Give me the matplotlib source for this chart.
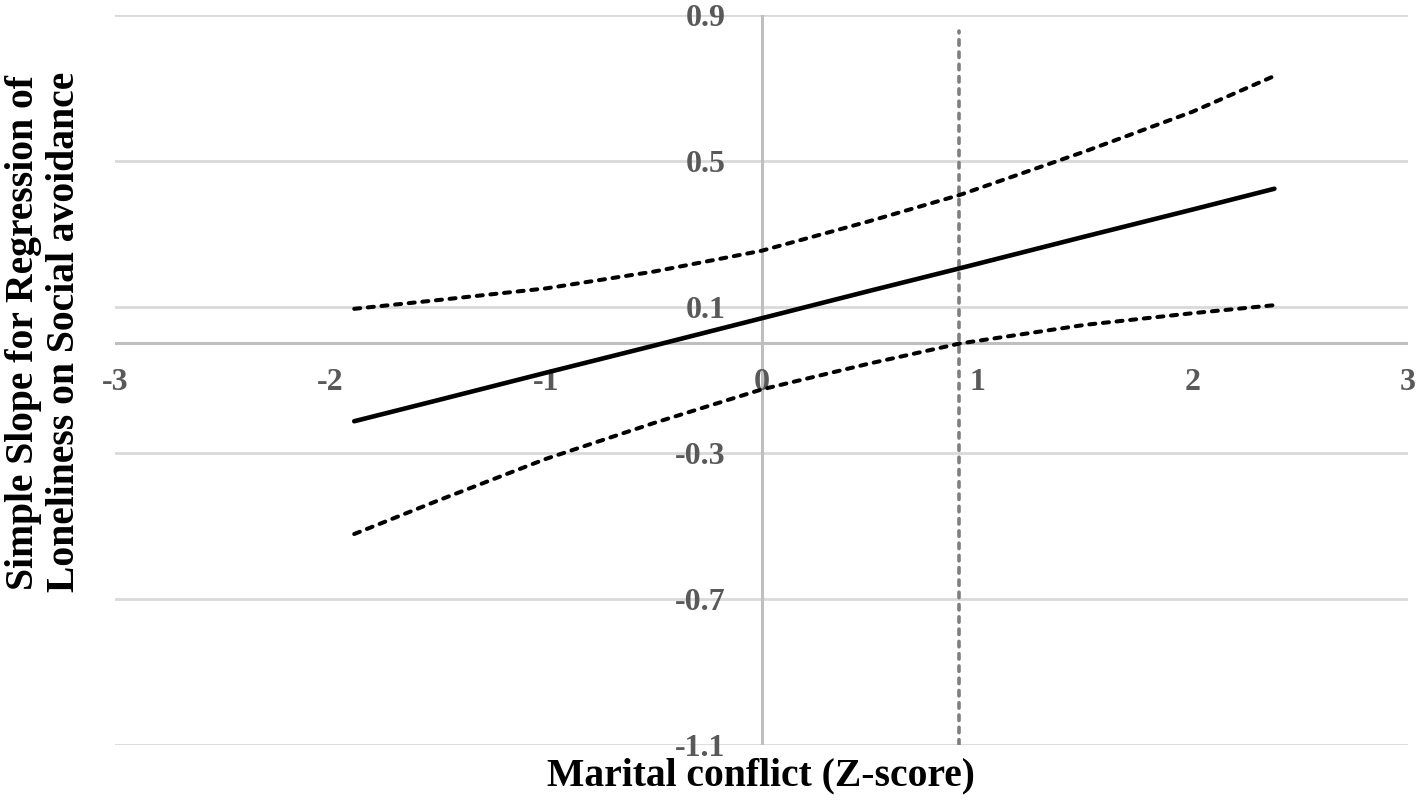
import matplotlib
matplotlib.use("Agg")
import matplotlib.pyplot as plt

# Data
x_vals = [-1.89, -1.5, -1.0, -0.5, 0.0, 0.5, 0.92, 1.5, 2.0, 2.38]
slope = [-0.213, -0.155, -0.080, -0.006, 0.069, 0.144, 0.206, 0.293, 0.367, 0.424]
upper = [0.095, 0.119, 0.151, 0.197, 0.254, 0.335, 0.407, 0.526, 0.635, 0.733]
lower = [-0.522, -0.430, -0.316, -0.218, -0.126, -0.055, 0.000, 0.051, 0.083, 0.105]
jn_x = 0.916          # Johnson-Neyman boundary (vertical dashed line)
jn_top = 0.855

x_ticks = [-3, -2, -1, 0, 1, 2, 3]
y_ticks = [-1.1, -0.7, -0.3, 0.1, 0.5, 0.9]
y_tick_labels = ["-1.1", "-0.7", "-0.3", "0.1", "0.5", "0.9"]
x_label = "Marital conflict (Z-score)"
y_label = "Simple Slope for Regression of\nLoneliness on Social avoidance"

serif = ["Liberation Serif", "DejaVu Serif"]
tick_color = "#595959"

fig = plt.figure(figsize=(14.21, 8.0), dpi=100)
ax = fig.add_axes([115 / 1421, 55 / 800, (1408 - 115) / 1421, (745 - 15) / 800])
ax.set_xlim(-3, 3)
ax.set_ylim(-1.1, 0.9)

# gridlines
for yv in y_ticks:
    ax.axhline(yv, color="#d9d9d9", lw=2.0, zorder=0)
# axis lines crossing at zero
ax.axhline(0, color="#bfbfbf", lw=2.2, zorder=1)
ax.axvline(0, color="#bfbfbf", lw=2.2, zorder=1)

for s in ax.spines.values():
    s.set_visible(False)
ax.spines["bottom"].set_position(("data", 0))
ax.spines["left"].set_position(("data", 0))

ax.set_xticks(x_ticks)
ax.set_xticklabels([str(v) for v in x_ticks])
ax.set_yticks(y_ticks)
ax.set_yticklabels(y_tick_labels)
ax.tick_params(axis="x", length=0, pad=18, labelsize=23, labelcolor=tick_color)
ax.tick_params(axis="y", length=0, pad=26, labelsize=23, labelcolor=tick_color)
for lab in ax.get_xticklabels() + ax.get_yticklabels():
    lab.set_fontfamily(serif)
    lab.set_fontweight("bold")

# vertical JN line
ax.plot([jn_x, jn_x], [-1.1, jn_top], color="#7f7f7f", lw=2.6,
        linestyle=(0, (1.5, 1.9)), dash_capstyle="round", zorder=2)

# bands and slope line
ax.plot(x_vals, upper, color="black", lw=2.9, linestyle=(0, (1.5, 1.9)),
        dash_capstyle="round", zorder=3)
ax.plot(x_vals, lower, color="black", lw=2.9, linestyle=(0, (1.5, 1.9)),
        dash_capstyle="round", zorder=3)
ax.plot(x_vals, slope, color="black", lw=3.3, solid_capstyle="round", zorder=3)

fig.text(761 / 1421, 1 - 776 / 800, x_label, ha="center", va="center",
         fontsize=28.5, fontweight="bold", family=serif, color="black")
fig.text(44 / 1421, 1 - 332 / 800, y_label, ha="center", va="center",
         rotation=90, fontsize=28.5, fontweight="bold", family=serif,
         color="black", multialignment="center", linespacing=1.15)

fig.savefig("out.png", dpi=100)
